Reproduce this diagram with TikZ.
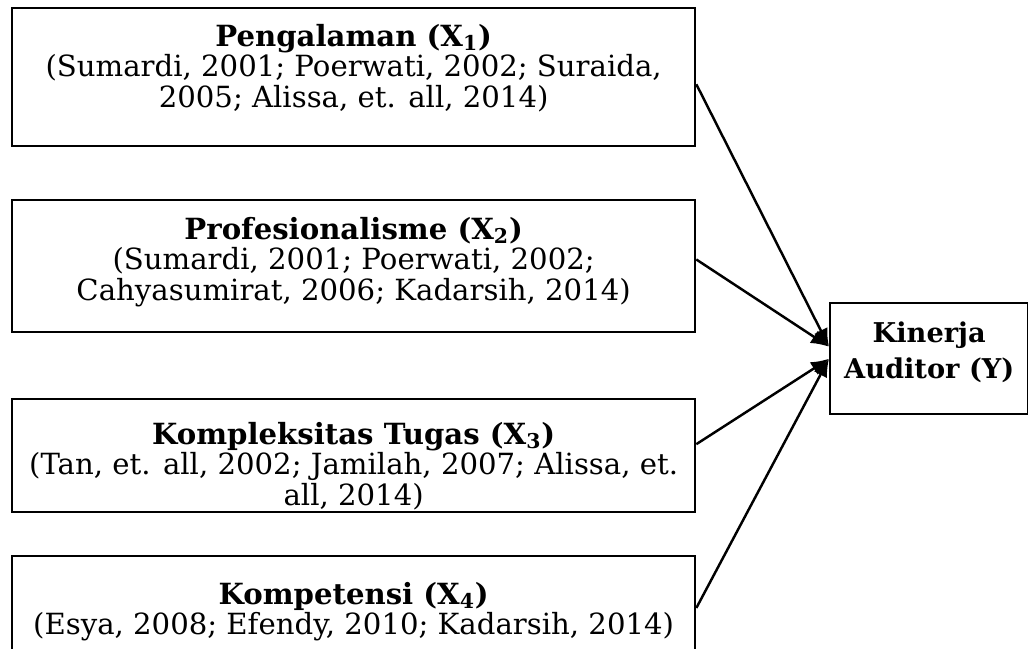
\documentclass[tikz,border=0pt]{standalone}
\usepackage{fontspec}
\setmainfont{DejaVu Serif}
\usetikzlibrary{positioning,calc,arrows.meta}

\tikzset{
  varbox/.style = {draw, line width=1.4pt, rectangle, anchor=north west,
    minimum width=13.66cm},
  vartext/.style = {align=center, inner sep=0pt,
    font=\fontsize{16.6}{17.6}\selectfont},
  link/.style = {line width=1.4pt, -{Latex[length=3.6mm,width=3mm]}}
}

\begin{document}
\begin{tikzpicture}[x=0.02cm, y=-0.02cm]
  \useasboundingbox (0,0) rectangle (1028,649);
  \clip (0,0) rectangle (1028,649);
  % variabel X
  \node [varbox, minimum height=2.76cm] (pengalaman) at (11,7) {};
  \node [vartext, below=0.33cm of pengalaman.north] (tpengalaman)
    {\textbf{Pengalaman (X\textsubscript{1})}\\
     (Sumardi, 2001; Poerwati, 2002; Suraida,\\
     2005; Alissa, et. all, 2014)};
  \node [varbox, minimum height=2.64cm] (profesional) at (11,199) {};
  \node [vartext, below=0.35cm of profesional.north] (tprofesional)
    {\textbf{Profesionalisme (X\textsubscript{2})}\\
     (Sumardi, 2001; Poerwati, 2002;\\
     Cahyasumirat, 2006; Kadarsih, 2014)};
  \node [varbox, minimum height=2.26cm] (kompleks) at (11,398) {};
  \node [vartext, below=0.47cm of kompleks.north] (tkompleks)
    {\textbf{Kompleksitas Tugas (X\textsubscript{3})}\\
     (Tan, et. all, 2002; Jamilah, 2007; Alissa, et.\\
     all, 2014)};
  \node [varbox, minimum height=2.6cm] (kompetensi) at (11,555) {};
  \node [vartext, below=0.53cm of kompetensi.north] (tkompetensi)
    {\textbf{Kompetensi (X\textsubscript{4})}\\
     (Esya, 2008; Efendy, 2010; Kadarsih, 2014)};
  % variabel Y
  \node [varbox, minimum width=3.96cm, minimum height=2.22cm] (kinerja) at (829,302) {};
  \node [vartext, font=\fontsize{15.5}{21}\selectfont, below=0.38cm of kinerja.north] (tkinerja)
    {\textbf{Kinerja}\\ \textbf{Auditor (Y)}};
  % panah
  \draw [link] ($(pengalaman.north east)!0.55!(pengalaman.south east)$) -- ($(kinerja.west)+(0,-12)$);
  \draw [link] ($(profesional.north east)!0.45!(profesional.south east)$) -- ($(kinerja.west)+(0,-12)$);
  \draw [link] ($(kompleks.north east)!0.40!(kompleks.south east)$) -- (kinerja.west);
  \draw [link] ($(kompetensi.north east)!0.40!(kompetensi.south east)$) -- (kinerja.west);
\end{tikzpicture}
\end{document}
